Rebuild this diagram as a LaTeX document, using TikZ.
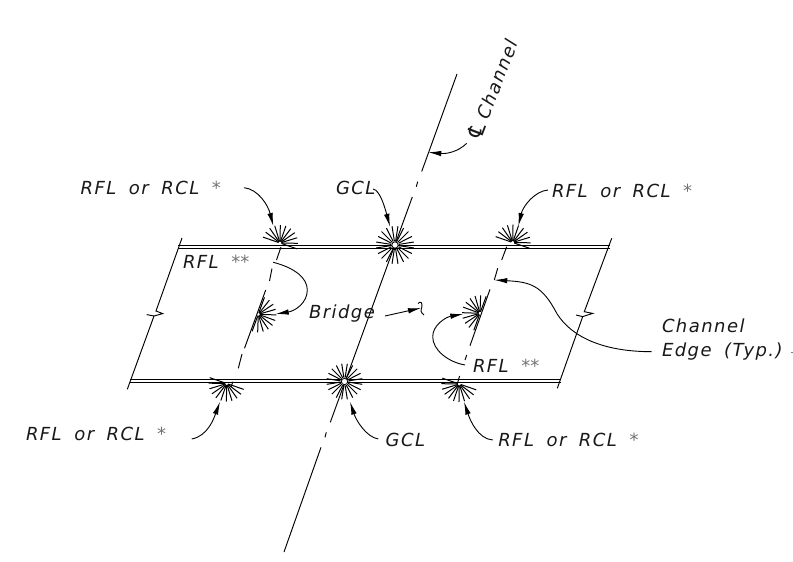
\documentclass[tikz,border=0pt]{standalone}
\usepackage{fontspec}
\setmainfont{DejaVu Sans}
\usetikzlibrary{arrows.meta}
\newfontfamily\lblfont[LetterSpace=8,WordSpace=1.75]{DejaVu Sans}
\newfontfamily\clsymfont{DejaVu Sans}
\definecolor{astgray}{gray}{0.45}
\newcommand{\astmark}{{\color{astgray}*}}
\tikzset{
  lbl/.style={inner sep=0pt,outer sep=0pt,anchor=west,text=black!90,font=\lblfont\itshape\fontsize{18}{21}\selectfont},
  ln/.style={line width=0.95pt,black,line cap=butt},
  raystyle/.style={line width=1pt,black},
  leader/.style={line width=0.9pt,black,-{Latex[length=13pt,width=5.5pt]}},
  plainleader/.style={line width=0.9pt,black},
}
\newcommand{\halfstar}[2]{% centre, start angle
  \foreach \k in {0,...,10}{
    \pgfmathsetmacro{\ang}{#2+18*\k}
    \draw[raystyle] (#1) ++(\ang:1.5pt) -- ++(\ang:16.5pt);
  }
}
\newcommand{\fullstar}[2]{%
  \foreach \k in {0,...,19}{
    \pgfmathsetmacro{\ang}{9+18*\k}
    \draw[raystyle] (#1) ++(\ang:4pt) -- ++(\ang:#2);
  }
  \draw[line width=0.8pt,fill=white] (#1) circle (3.2pt);
}
\begin{document}
\begin{tikzpicture}[x=1pt,y=-1pt]
\useasboundingbox (0,0) rectangle (793,562);
\fill[white] (0,0) rectangle (793,562);
% star centres
\coordinate (gt) at (395,245);
\coordinate (gb) at (344.5,381.5);
\coordinate (tl) at (280,243);
\coordinate (tr) at (512.7,242.5);
\coordinate (bl) at (226.7,383.5);
\coordinate (br) at (459.3,384);
\coordinate (ml) at (258.3,314.3);
\coordinate (mr) at (480,313.3);
% rails
\draw[ln] (178,245.2) -- (610,245.2);
\draw[ln] (178,248.3) -- (610,248.3);
\draw[ln] (130,379.5) -- (561,379.5);
\draw[ln] (130,382.6) -- (561,382.6);
% skew ends with break marks
\draw[ln] (182,238) -- (156,311) -- (162.7,313.6) -- (154,316) -- (146.7,314.6);
\draw[ln] (154,316) -- (127.3,389.3);
\draw[ln] (611.7,238.3) -- (584.3,311.7) -- (592.7,313.4) -- (582.7,316.6) -- (576,315);
\draw[ln] (582.7,316.6) -- (557.3,388.3);
% centre line
\draw[ln] (457,74) -- (421.7,171.5);
\draw[ln] (417.7,181.7) -- (416.3,186.7);
\draw[ln] (412.3,197) -- (330.3,422.3);
\draw[ln] (326.3,432.3) -- (325,437.3);
\draw[ln] (321,447.3) -- (284,552);
% left channel edge
\draw[ln] (281,247) -- (276.5,260);
\draw[ln] (272,268.5) -- (269.5,281);
\draw[ln] (265.7,290) -- (244.5,348.3);
\draw[ln] (242,354) -- (238.3,368.3);
\draw[ln] (232.9,381.7) -- (231,387);
% right channel edge
\draw[ln] (506.7,246.7) -- (501.7,260);
\draw[ln] (497.7,268.3) -- (494.3,280);
\draw[ln] (490,289.3) -- (470,345.7);
\draw[ln] (466.7,355) -- (465,360);
\draw[ln] (459.6,376) -- (457.5,383);
% stars
\fullstar{gt}{15pt}
\fullstar{gb}{14pt}
\halfstar{tl}{-19}
\halfstar{tr}{-19}
\halfstar{bl}{161}
\halfstar{br}{161}
\halfstar{ml}{-110}
\halfstar{mr}{70}
% labels
\node[lbl] (tlL) at (80.7,187.7) {RFL or RCL \astmark};
\node[lbl] (trL) at (552,191) {RFL or RCL \astmark};
\node[lbl] (blL) at (26,434) {RFL or RCL \astmark};
\node[lbl] (brL) at (498.3,439.5) {RFL or RCL \astmark};
\node[lbl] (gtL) at (336,188) {GCL};
\node[lbl] (gbL) at (385.7,440) {GCL};
\node[lbl] (rfl1) at (183,262.3) {RFL \astmark\astmark};
\node[lbl] (rfl2) at (473,365.7) {RFL \astmark\astmark};
\node[lbl] (brg) at (309,314) {Bridge};
\node[lbl] (ch1) at (662,326) {Channel};
\node[lbl] (ch2) at (662,352) {Edge (Typ.)};
\node[lbl,anchor=center,rotate=69] (cl) at (492,90) {{\clsymfont\fontsize{22}{24}\selectfont ℄}\hspace{4pt}Channel};
% leader ends
\coordinate (s1) at (244,187.7);   \coordinate (t1) at (273.3,226);
\coordinate (s2) at (373,189);     \coordinate (t2) at (390,226.7);
\coordinate (s3) at (548,190);     \coordinate (t3) at (518.3,226);
\coordinate (s4) at (273.3,262.3); \coordinate (m4) at (307.3,290); \coordinate (t4) at (275.7,314);
\coordinate (s5) at (465,365);     \coordinate (m5) at (432.7,336.7); \coordinate (t5) at (463.3,314);
\coordinate (s6) at (651.7,351.7); \coordinate (m6) at (556.7,313.3); \coordinate (t6) at (494.3,280);
\coordinate (s7) at (191.7,439);   \coordinate (t7) at (220,401.7);
\coordinate (s8) at (378.3,439);   \coordinate (t8) at (350,401.7);
\coordinate (s9) at (492.7,440);   \coordinate (t9) at (464,401.7);
\coordinate (s10) at (466.7,143.3);\coordinate (t10) at (428.3,152.3);
\coordinate (s11) at (385,316);    \coordinate (t11) at (421,308);
% leaders
\draw[leader] (s1) .. controls (258,189) and (268,205) .. (t1);
\draw[leader] (s2) .. controls (380,190) and (385,208) .. (t2);
\draw[leader] (s3) .. controls (535,191) and (523,206) .. (t3);
\draw[plainleader] (s4) .. controls (295,268) and (307.3,278) .. (m4);
\draw[leader] (m4) .. controls (307.3,303) and (295,311) .. (t4);
\draw[plainleader] (s5) .. controls (448,362) and (432.7,350) .. (m5);
\draw[leader] (m5) .. controls (432.7,325) and (446,317) .. (t5);
\draw[plainleader] (s6) .. controls (605,351.7) and (572,338) .. (m6);
\draw[leader] (m6) .. controls (542,285) and (530,282) .. (t6);
\draw[leader] (s7) .. controls (208,436) and (214,418) .. (t7);
\draw[leader] (s8) .. controls (366,437) and (356,420) .. (t8);
\draw[leader] (s9) .. controls (478,439) and (470,420) .. (t9);
\draw[leader] (s10) .. controls (458,152) and (446,154) .. (t10);
\draw[leader] (s11) -- (t11);
% squiggle
\draw[plainleader] (418,303.5) .. controls (421,300.5) and (422.5,303) .. (421.8,307) .. controls (421,310.5) and (420,312) .. (424,315);
% stray tick
\coordinate (tk1) at (790.5,352.7); \coordinate (tk2) at (793,352.7);
\draw[line width=0.6pt,black!50] (tk1) -- (tk2);
\end{tikzpicture}
\end{document}
